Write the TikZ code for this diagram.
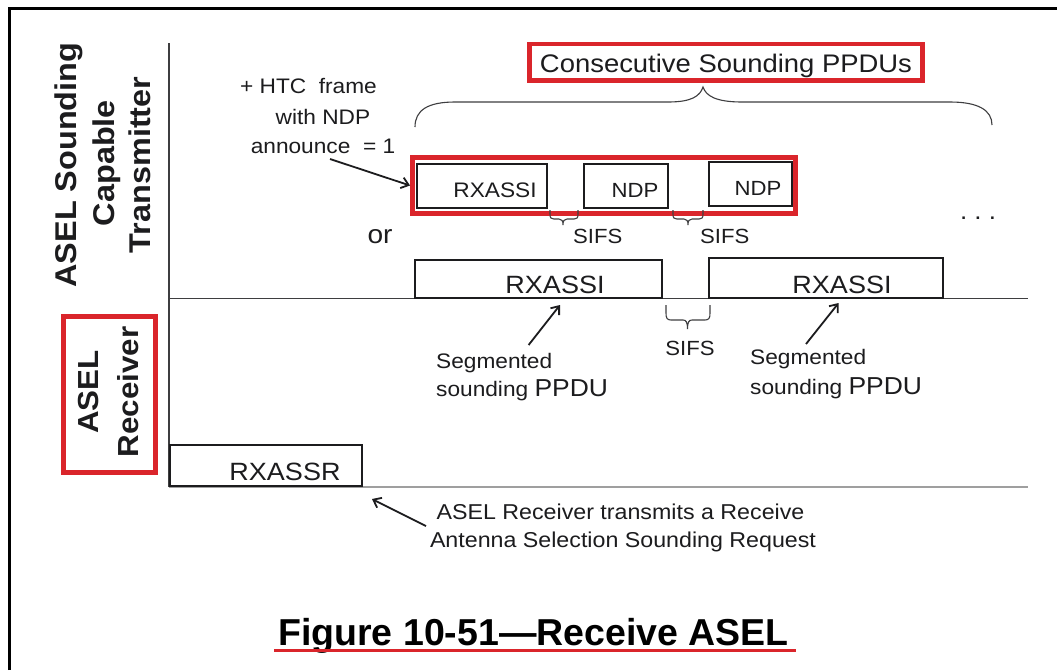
\documentclass[tikz,border=0pt]{standalone}
\usepackage{fontspec}
\setmainfont{Liberation Sans}[FakeStretch=1.08]
\newfontfamily\capfont{Liberation Sans}
\usetikzlibrary{arrows.meta}
\definecolor{redbox}{RGB}{218,37,43}
\definecolor{ink}{RGB}{28,28,30}
\newcommand{\fsz}[1]{\fontsize{#1}{#1}\selectfont}
\begin{document}
\begin{tikzpicture}[x=1pt,y=-1pt,
  txt/.style={inner sep=0pt, text=ink},
  frm/.style={draw=ink, line width=1.6pt, inner sep=0pt},
  redfrm/.style={draw=redbox, line width=5pt, inner sep=0pt},
  arr/.style={draw=ink, line width=1.8pt, -{Straight Barb[length=7pt,width=11pt,line width=1.8pt]}},
  brc/.style={draw=ink!85, line width=1.1pt},
  axis/.style={draw=ink!85, line width=1.5pt},
]
\useasboundingbox (0,0) rectangle (1057,670);
\fill[white] (0,0) rectangle (1057,670);
% outer frame (open at right and bottom)
\draw[line width=3pt, black] (9.5,670) -- (9.5,8.5) -- (1057,8.5);

% axes
\coordinate (axtop) at (169,43);
\coordinate (axbot) at (169,487);
\coordinate (t1a) at (169,298.5);
\coordinate (t1b) at (1028,298.5);
\coordinate (r1b) at (1028,487);
\draw[axis] (axtop) -- (axbot);
\draw[axis] (t1a) -- (t1b);
\draw[draw=gray!75, line width=2.2pt] (axbot) -- (r1b);

% left lane labels
\node[txt, font=\fsz{30}\bfseries, rotate=90, anchor=base] (tx1) at (76.7,165) {ASEL Sounding};
\node[txt, font=\fsz{30}\bfseries, rotate=90, anchor=base] (tx2) at (114.5,163) {Capable};
\node[txt, font=\fsz{30}\bfseries, rotate=90, anchor=base] (tx3) at (150,165) {Transmitter};
\node[redfrm, minimum width=92pt, minimum height=156pt] (rcvbox) at (109.5,394.5) {};
\node[txt, font=\fsz{29}\bfseries, rotate=90, anchor=base] (rx1) at (98,392) {ASEL};
\node[txt, font=\fsz{29}\bfseries, rotate=90, anchor=base] (rx2) at (138,392) {Receiver};

% consecutive sounding PPDUs
\node[redfrm, line width=4.5pt, minimum width=393pt, minimum height=36.5pt,
      text height=20.9pt, text depth=0pt, text=ink, font=\fsz{25.4}] (cons) at (726,62.25) {Consecutive Sounding PPDUs};
\draw[brc] (415,127) .. controls (415,110) and (428,102) .. (455,102) -- (668,102)
  .. controls (692,102) and (700,96) .. (703,87)
  .. controls (706,96) and (716,102) .. (742,102) -- (950,102)
  .. controls (978,102) and (992,110) .. (992,125);

% HTC annotation
\node[txt, font=\fsz{21}, anchor=base] (htc1) at (308.5,93) {+ HTC\ \ frame};
\node[txt, font=\fsz{21}, anchor=base] (htc2) at (323,124) {with NDP};
\node[txt, font=\fsz{21}, anchor=base] (htc3) at (323,153) {announce\ \ = 1};

% upper row (NDP sounding)
\node[redfrm, minimum width=383pt, minimum height=56pt] (grp) at (604,185.5) {};
\node[frm, minimum width=130.4pt, minimum height=44.4pt] (ub1) at (482,186) {};
\node[frm, minimum width=84.4pt, minimum height=44.4pt] (ub2) at (626,186) {};
\node[frm, minimum width=83.4pt, minimum height=44.4pt] (ub3) at (750.5,184) {};
\node[txt, font=\fsz{21}, anchor=base] (ut1) at (495,197) {RXASSI};
\node[txt, font=\fsz{20.5}, anchor=base] (ut2) at (635,197) {NDP};
\node[txt, font=\fsz{20.5}, anchor=base] (ut3) at (758,195) {NDP};
\coordinate (htctail) at (330,159);
\draw[arr] (htctail) -- (grp.west);

% SIFS braces (upper)
\draw[brc] (550,210) -- (550,214) .. controls (550,218) and (551,219) .. (554,219) -- (559,219)
  .. controls (562,219) and (563,221) .. (563,225) .. controls (563,221) and (564,219) .. (567,219)
  -- (574,219) .. controls (577,219) and (578,218) .. (578,214) -- (578,210);
\draw[brc] (673,210) -- (673,214) .. controls (673,218) and (674,219) .. (677,219) -- (684,219)
  .. controls (687,219) and (688,221) .. (688,225) .. controls (688,221) and (689,219) .. (692,219)
  -- (699,219) .. controls (702,219) and (703,218) .. (703,214) -- (703,210);
\node[txt, font=\fsz{20.5}, anchor=base west] (sifs1) at (573,243) {SIFS};
\node[txt, font=\fsz{20.5}, anchor=base west] (sifs2) at (700,243) {SIFS};
\node[txt, font=\fsz{26}, anchor=base] (or) at (380,243.3) {or};
\node[txt, font=\fsz{24}, anchor=base] (dots) at (978,219) {.\ .\ .};

% lower row (segmented sounding)
\node[frm, minimum width=247.4pt, minimum height=38.4pt] (lb1) at (538.5,279) {};
\node[frm, minimum width=234.4pt, minimum height=40.4pt] (lb2) at (826,278) {};
\node[txt, font=\fsz{25}, anchor=base] (lt1) at (555,293.3) {RXASSI};
\node[txt, font=\fsz{25}, anchor=base] (lt2) at (842,293.3) {RXASSI};
\draw[brc] (666,305) -- (666,313) .. controls (666,318) and (667,320) .. (671,320) -- (683,320)
  .. controls (686,320) and (687.5,322) .. (687.5,329) .. controls (687.5,322) and (689,320) .. (692,320)
  -- (705,320) .. controls (709,320) and (710,318) .. (710,313) -- (710,305);
\node[txt, font=\fsz{20.5}, anchor=base] (sifs3) at (690,355) {SIFS};

\node[txt, font=\fsz{21}, anchor=base west] (seg1a) at (436,368) {Segmented};
\node[txt, font=\fsz{21}, anchor=base west] (seg1b) at (436,396.7) {sounding {\fsz{24.5}PPDU}};
\node[txt, font=\fsz{21}, anchor=base west] (seg2a) at (750,364) {Segmented};
\node[txt, font=\fsz{21}, anchor=base west] (seg2b) at (750,394) {sounding {\fsz{24.5}PPDU}};
\coordinate (a1t) at (528.6,345);
\coordinate (a1h) at (560,305);
\coordinate (a2t) at (806,344);
\coordinate (a2h) at (838.6,303);
\draw[arr] (a1t) -- (a1h);
\draw[arr] (a2t) -- (a2h);

% receiver request
\node[frm, minimum width=192.4pt, minimum height=41.4pt] (rq) at (266,465.5) {};
\node[txt, font=\fsz{25}, anchor=base] (rqt) at (285,480) {RXASSR};
\node[txt, font=\fsz{21.5}, anchor=base] (note1) at (620.5,519) {ASEL Receiver transmits a Receive};
\node[txt, font=\fsz{21.5}, anchor=base] (note2) at (623,547) {Antenna Selection Sounding Request};
\coordinate (a3t) at (426,526);
\coordinate (a3h) at (372,499);
\draw[arr] (a3t) -- (a3h);

% caption
\node[txt, font=\capfont\bfseries\fsz{37.5}, anchor=base, text=black] (cap) at (533.5,645) {Figure 10-51—Receive ASEL};
\coordinate (ul1) at (274,650.5);
\coordinate (ul2) at (796,650.5);
\draw[redbox, line width=3.5pt] (ul1) -- (ul2);
\end{tikzpicture}
\end{document}
